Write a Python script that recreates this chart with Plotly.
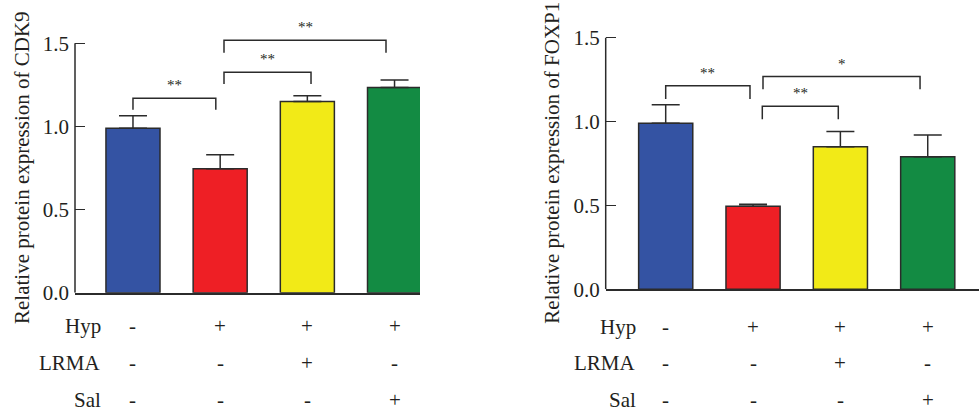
import plotly.graph_objects as go

# ---------------- data ----------------
groups = [0, 1, 2, 3]
colors = ["#3453A3", "#EE1F25", "#F2EA17", "#138B43"]

cdk9_vals = [0.99, 0.745, 1.15, 1.235]
cdk9_err = [0.075, 0.085, 0.035, 0.045]

foxp1_vals = [0.99, 0.495, 0.85, 0.79]
foxp1_err = [0.11, 0.012, 0.09, 0.13]

tick_vals = [0, 0.5, 1.0, 1.5]
tick_text = ["0.0", "0.5", "1.0", "1.5"]

row_names = ["Hyp", "LRMA", "Sal"]
hyp_row = ["-", "+", "+", "+"]
lrma_row = ["-", "-", "+", "-"]
sal_row = ["-", "-", "-", "+"]

# brackets: (x_start, x_end, y_bar, y_leg_end, label)
cdk9_brackets = [
    (0.0, 0.95, 1.17, 1.10, "**"),
    (1.044, 2.042, 1.326, 1.255, "**"),
    (1.044, 2.902, 1.518, 1.443, "**"),
]
foxp1_brackets = [
    (0.0, 0.965, 1.214, 1.135, "**"),
    (1.106, 1.976, 1.091, 1.014, "**"),
    (1.114, 2.912, 1.268, 1.192, "*"),
]

cdk9_title = "Relative protein expression of CDK9"
foxp1_title = "Relative protein expression of FOXP1"

# ---------------- style ----------------
W, H = 979, 411
FONT = "Liberation Serif"
TXT = "#231F20"
LINE = "#2b2b2b"

fig = go.Figure()


def add_panel(xa, ya, vals, errs):
    fig.add_trace(go.Bar(
        x=groups, y=vals, width=0.62,
        marker=dict(color=colors, line=dict(color=LINE, width=1.5)),
        error_y=dict(type="data", symmetric=False, array=errs,
                     arrayminus=[0] * len(errs), color=LINE,
                     thickness=1.5, width=14),
        xaxis=xa, yaxis=ya, showlegend=False, hoverinfo="skip",
    ))


add_panel("x", "y", cdk9_vals, cdk9_err)
add_panel("x2", "y2", foxp1_vals, foxp1_err)

axis_common_x = dict(showgrid=False, zeroline=False, showticklabels=False,
                     ticks="", showline=True, linecolor=LINE, linewidth=2,
                     fixedrange=True, automargin=False)
axis_common_y = dict(showgrid=False, zeroline=False, showline=False,
                     tickvals=tick_vals, ticktext=tick_text, ticks="inside",
                     ticklen=10, tickwidth=1.5, tickcolor=LINE,
                     tickfont=dict(family=FONT, size=21, color=TXT),
                     ticklabelstandoff=5,
                     range=[0, 1.65], fixedrange=True, automargin=False)

fig.update_layout(
    width=W, height=H,
    margin=dict(l=0, r=0, t=0, b=0, autoexpand=False),
    paper_bgcolor="white", plot_bgcolor="white",
    showlegend=False,
    xaxis=dict(domain=[75 / W, 420 / W], range=[-0.665, 3.292], anchor="y", **axis_common_x),
    yaxis=dict(domain=[0.2878, 0.9552], anchor="x", **axis_common_y),
    xaxis2=dict(domain=[605.7 / W, 1.0], range=[-0.687, 3.587], anchor="y2", **axis_common_x),
    yaxis2=dict(domain=[0.2961, 0.9696], anchor="x2", **axis_common_y),
)

shapes = []
annotations = []

# y axis lines from 0 to 1.5
for xr, yr in (("x", "y"), ("x2", "y2")):
    shapes.append(dict(type="line", xref=f"{xr} domain", yref=yr,
                       x0=0, x1=0, y0=0, y1=1.5,
                       line=dict(color=LINE, width=1.5)))


def add_brackets(xr, yr, brackets):
    for x0, x1, yb, yl, lab in brackets:
        shapes.append(dict(type="path", xref=xr, yref=yr,
                           path=f"M {x0},{yl} L {x0},{yb} L {x1},{yb} L {x1},{yl}",
                           line=dict(color=LINE, width=1.5)))
        annotations.append(dict(x=(x0 + x1) / 2, y=yb, xref=xr, yref=yr,
                                text=lab, showarrow=False, xanchor="center",
                                yanchor="bottom", yshift=3,
                                font=dict(family=FONT, size=15, color=TXT)))


add_brackets("x", "y", cdk9_brackets)
add_brackets("x2", "y2", foxp1_brackets)

# y titles
annotations.append(dict(x=22 / W, y=1 - 168 / H, xref="paper", yref="paper",
                        text=cdk9_title, textangle=-90, showarrow=False,
                        xanchor="center", yanchor="middle",
                        font=dict(family=FONT, size=21, color=TXT)))
annotations.append(dict(x=551.7 / W, y=1 - 163 / H, xref="paper", yref="paper",
                        text=foxp1_title, textangle=-90, showarrow=False,
                        xanchor="center", yanchor="middle",
                        font=dict(family=FONT, size=21, color=TXT)))

# treatment rows
rows = [hyp_row, lrma_row, sal_row]
row_y_left = [326, 362.7, 400]
row_y_right = [326.7, 363.3, 400]
for xr, label_right, row_ys in (("x", 103, row_y_left), ("x2", 638.3, row_y_right)):
    for name, signs, py in zip(row_names, rows, row_ys):
        annotations.append(dict(x=label_right / W, y=1 - py / H, xref="paper", yref="paper",
                                text=name, showarrow=False, xanchor="right",
                                yanchor="middle",
                                font=dict(family=FONT, size=21, color=TXT)))
        for g, s in zip(groups, signs):
            annotations.append(dict(x=g, y=1 - py / H, xref=xr, yref="paper",
                                    text=s, showarrow=False, xanchor="center",
                                    yanchor="middle",
                                    font=dict(family=FONT, size=21, color=TXT)))

fig.update_layout(shapes=shapes, annotations=annotations)

fig.write_html("out.html",
               config={"displayModeBar": False, "staticPlot": True},
               post_script="document.body.style.margin='0';document.body.style.overflow='hidden';")
